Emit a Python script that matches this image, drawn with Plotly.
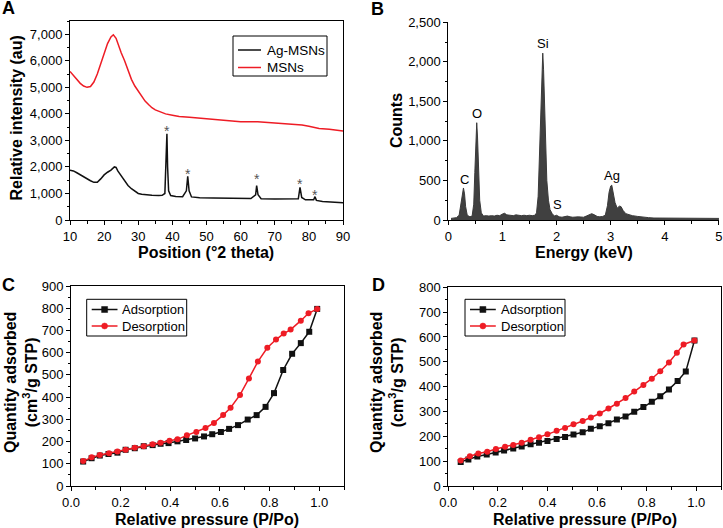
import plotly.graph_objects as go

# ---------------- Panel A: XRD ----------------
xrd_msn_theta = [10, 11, 12, 13, 14, 15, 16, 17, 18, 19, 20, 21, 22, 22.7, 23.5, 24, 25, 26, 27, 28, 29, 30,
                 31, 32, 33, 34, 35, 36, 37, 38, 40, 42, 45, 50, 55, 60, 65, 70, 75, 78, 80, 83, 86, 88, 90]
xrd_msn_int = [5600, 5450, 5300, 5150, 5050, 5000, 5030, 5200, 5500, 5900, 6300, 6650, 6900, 6980, 6850, 6650,
               6300, 6000, 5650, 5300, 5050, 4850, 4650, 4480, 4350, 4230, 4150, 4100, 4050, 4000, 3950, 3900,
               3870, 3820, 3750, 3700, 3700, 3660, 3600, 3580, 3530, 3450, 3420, 3380, 3350]

xrd_ag_theta = [10, 11, 12, 13, 14, 15, 16, 17, 18, 19, 20, 21, 22, 23, 23.5, 24, 25, 26, 27, 28, 29, 30, 31,
                32, 34, 36, 37, 37.8, 38.1, 38.4, 38.6, 38.9, 39.5, 41, 43, 44.1, 44.5, 44.9, 45.6, 48, 52, 56,
                60, 63, 64.4, 64.7, 65.1, 66, 70, 74, 76.9, 77.4, 77.9, 79, 81.4, 81.8, 82.2, 84, 87, 90]
xrd_ag_int = [1880, 1850, 1780, 1700, 1620, 1550, 1480, 1420, 1420, 1550, 1700, 1800, 1880, 2000, 1980, 1850,
              1650, 1450, 1300, 1180, 1080, 1000, 970, 950, 930, 920, 930, 1000, 2200, 3250, 2000, 1100, 920,
              890, 880, 1100, 1650, 1100, 870, 840, 830, 820, 810, 810, 950, 1300, 950, 800, 790, 780, 800,
              1230, 850, 760, 760, 880, 740, 700, 670, 650]

star_theta = [38.4, 44.7, 64.8, 77.5, 81.7]
star_int = [3456, 1858, 1658, 1470, 1067]

# ---------------- Panel B: EDS ----------------
eds_energy = [0.05, 0.10, 0.15, 0.20, 0.23, 0.26, 0.28, 0.30, 0.32, 0.35, 0.40, 0.44, 0.47, 0.49, 0.51, 0.525,
              0.54, 0.56, 0.58, 0.61, 0.65, 0.70, 0.75, 0.80, 0.85, 0.90, 0.95, 1.00, 1.04, 1.08, 1.12, 1.20,
              1.25, 1.30, 1.35, 1.40, 1.45, 1.50, 1.55, 1.60, 1.63, 1.66, 1.69, 1.71, 1.73, 1.745, 1.76, 1.78,
              1.80, 1.82, 1.85, 1.88, 1.92, 1.96, 2.00, 2.05, 2.10, 2.15, 2.20, 2.25, 2.30, 2.40, 2.50, 2.55,
              2.60, 2.65, 2.70, 2.75, 2.80, 2.85, 2.90, 2.94, 2.97, 3.00, 3.02, 3.05, 3.08, 3.12, 3.16, 3.19,
              3.23, 3.28, 3.33, 3.40, 3.50, 3.60, 3.70, 3.80, 4.00, 4.20, 4.40, 4.60, 4.80, 5.00]
eds_counts = [20, 25, 30, 60, 180, 330, 405, 330, 170, 60, 40, 50, 200, 600, 1050, 1230,
              1050, 600, 250, 90, 50, 55, 50, 55, 50, 60, 55, 75, 85, 65, 60, 55,
              65, 60, 55, 60, 55, 60, 55, 60, 90, 300, 900, 1500, 1950, 2110, 1900, 1450,
              900, 500, 250, 130, 80, 50, 60, 40, 35, 40, 50, 40, 35, 40, 35, 50,
              70, 80, 65, 45, 40, 45, 60, 180, 350, 430, 440, 350, 220, 150, 175, 170,
              120, 80, 70, 55, 45, 35, 30, 25, 25, 25, 22, 20, 20, 20]

eds_labels = ["C", "O", "Si", "S", "Ag"]
eds_label_x = [0.29, 0.536, 1.756, 2.015, 3.02]
eds_label_y = [515, 1349, 2231, 190, 560]

# ---------------- Panel C: isotherm ----------------
c_ads_p = [0.049, 0.083, 0.116, 0.151, 0.187, 0.22, 0.257, 0.293, 0.329, 0.361, 0.393, 0.429, 0.464, 0.5,
           0.536, 0.569, 0.604, 0.637, 0.673, 0.712, 0.748, 0.784, 0.818, 0.855, 0.891, 0.926, 0.96, 0.992]
c_ads_q = [110, 125, 137, 144, 150, 163, 170, 179, 184, 190, 193, 201, 207, 214, 223, 233, 243, 257, 274, 299,
           319, 356, 418, 522, 595, 643, 694, 797]
c_des_p = [0.049, 0.083, 0.116, 0.153, 0.187, 0.22, 0.257, 0.293, 0.329, 0.361, 0.397, 0.429, 0.467, 0.505,
           0.542, 0.576, 0.613, 0.643, 0.681, 0.717, 0.753, 0.791, 0.826, 0.857, 0.885, 0.926, 0.957, 0.992]
c_des_q = [112, 129, 140, 147, 155, 163, 172, 179, 188, 195, 204, 210, 228, 243, 261, 284, 319, 352, 410, 484,
           560, 622, 659, 686, 704, 744, 777, 797]

# ---------------- Panel D: isotherm ----------------
d_ads_p = [0.05, 0.081, 0.117, 0.155, 0.191, 0.225, 0.262, 0.296, 0.332, 0.366, 0.4, 0.437, 0.471, 0.505,
           0.542, 0.575, 0.611, 0.646, 0.68, 0.715, 0.75, 0.787, 0.821, 0.855, 0.89, 0.925, 0.958, 0.993]
d_ads_q = [97, 107, 119, 127, 135, 143, 151, 159, 168, 174, 181, 189, 197, 207, 216, 230, 241, 253, 268, 280,
           299, 318, 339, 361, 389, 423, 461, 586]
d_des_p = [0.05, 0.087, 0.121, 0.157, 0.192, 0.229, 0.262, 0.296, 0.332, 0.366, 0.4, 0.437, 0.471, 0.505,
           0.542, 0.575, 0.611, 0.646, 0.68, 0.715, 0.75, 0.787, 0.821, 0.855, 0.89, 0.922, 0.949, 0.993]
d_des_q = [103, 120, 131, 138, 149, 158, 165, 174, 186, 196, 208, 222, 234, 249, 262, 276, 292, 312, 331, 354,
           380, 407, 432, 462, 497, 536, 570, 586]

# legend texts
legend_a = ["Ag-MSNs", "MSNs"]
legend_iso = ["Adsorption", "Desorption"]

W, H = 723, 528
FONT = "Arial, Liberation Sans, sans-serif"
RED = "#ee1c25"
BLACK = "#111111"


def px(xp):
    return xp / W


def py(yp):
    return 1 - yp / H


fig = go.Figure()

# A
fig.add_trace(go.Scatter(x=xrd_ag_theta, y=xrd_ag_int, mode="lines", name=legend_a[0],
                         line=dict(color=BLACK, width=1.5), xaxis="x", yaxis="y", showlegend=False))
fig.add_trace(go.Scatter(x=xrd_msn_theta, y=xrd_msn_int, mode="lines", name=legend_a[1],
                         line=dict(color=RED, width=1.5), xaxis="x", yaxis="y", showlegend=False))
# B
fig.add_trace(go.Scatter(x=eds_energy, y=eds_counts, mode="lines", fill="tozeroy", name="EDS",
                         line=dict(color="#3a3a3a", width=1), fillcolor="#404040",
                         showlegend=False, xaxis="x2", yaxis="y2"))
# C
fig.add_trace(go.Scatter(x=c_ads_p, y=c_ads_q, mode="lines+markers", name=legend_iso[0],
                         line=dict(color=BLACK, width=1.5), marker=dict(symbol="square", size=6, color=BLACK),
                         xaxis="x3", yaxis="y3", showlegend=False))
fig.add_trace(go.Scatter(x=c_des_p, y=c_des_q, mode="lines+markers", name=legend_iso[1],
                         line=dict(color=RED, width=1.5), marker=dict(symbol="circle", size=6, color=RED),
                         xaxis="x3", yaxis="y3", showlegend=False))
# D
fig.add_trace(go.Scatter(x=d_ads_p, y=d_ads_q, mode="lines+markers", name=legend_iso[0],
                         line=dict(color=BLACK, width=1.5), marker=dict(symbol="square", size=6, color=BLACK),
                         xaxis="x4", yaxis="y4", showlegend=False))
fig.add_trace(go.Scatter(x=d_des_p, y=d_des_q, mode="lines+markers", name=legend_iso[1],
                         line=dict(color=RED, width=1.5), marker=dict(symbol="circle", size=6, color=RED),
                         xaxis="x4", yaxis="y4", showlegend=False))

tickfont = dict(family=FONT, size=13, color="black")


def ax(domain, rng, dtick, minor_dtick, mirror, anchor, fmt=None):
    d = dict(domain=domain, range=rng, dtick=dtick, tick0=0, showgrid=False, zeroline=False,
             showline=True, linecolor="black", linewidth=1, mirror=mirror,
             ticks="outside", ticklen=4, tickwidth=1, tickcolor="black",
             minor=dict(ticks="outside", ticklen=2.5, tickwidth=1, tickcolor="black", dtick=minor_dtick,
                        showgrid=False),
             tickfont=tickfont, anchor=anchor, fixedrange=True, automargin=False,
             ticklabeloverflow="allow")
    if fmt:
        d["tickformat"] = fmt
    return d


A_x = [px(70), px(343)]
A_y = [py(220), py(21)]
B_x = [px(448.3), px(719)]
B_y = [py(220), py(22.3)]
C_x = [px(71), px(344)]
C_y = [py(486), py(286)]
D_x = [px(448.3), px(721)]
D_y = [py(486), py(287.3)]

fig.update_layout(
    width=W, height=H, margin=dict(l=0, r=0, t=0, b=0, autoexpand=False),
    paper_bgcolor="white", plot_bgcolor="white",
    font=dict(family=FONT, size=13, color="black"),
    separators=".,", showlegend=False,
    xaxis=ax(A_x, [10, 90], 10, 5, True, "y"),
    yaxis=ax(A_y, [0, 7500], 1000, 500, True, "x", ","),
    xaxis2=ax(B_x, [0, 5.001], 1, 0.5, False, "y2"),
    yaxis2=ax(B_y, [0, 2500], 500, 250, False, "x2", ","),
    xaxis3=ax(C_x, [0, 1.1], 0.2, 0.1, True, "y3", ".1f"),
    yaxis3=ax(C_y, [0, 900], 100, 50, True, "x3"),
    xaxis4=ax(D_x, [0, 1.1], 0.2, 0.1, True, "y4", ".1f"),
    yaxis4=ax(D_y, [0, 800], 100, 50, True, "x4"),
)

ann = []
shapes = []
# panel letters
for lab, xx, yy in [("A", 8.5, 8), ("B", 377, 8.5), ("C", 8.5, 285), ("D", 378.5, 285)]:
    ann.append(dict(text=f"<b>{lab}</b>", x=px(xx), y=py(yy), xref="paper", yref="paper", showarrow=False,
                    xanchor="center", yanchor="middle", font=dict(family=FONT, size=18, color="black")))
# axis titles
tfont = dict(family=FONT, size=16, color="black")
titles = [
    ("<b>Relative intensity (au)</b>", 15.5, 118, -90),
    ("<b>Position (°2 theta)</b>", 206, 252, 0),
    ("<b>Counts</b>", 397, 121, -90),
    ("<b>Energy (keV)</b>", 584, 252, 0),
    ("<b>Quantity adsorbed</b><br><b>(cm<sup>3</sup>/g STP)</b>", 21, 383, -90),
    ("<b>Relative pressure (P/Po)</b>", 207, 519, 0),
    ("<b>Quantity adsorbed</b><br><b>(cm<sup>3</sup>/g STP)</b>", 387, 383, -90),
    ("<b>Relative pressure (P/Po)</b>", 585, 519, 0),
]
for t, xx, yy, ang in titles:
    ann.append(dict(text=t, x=px(xx), y=py(yy), xref="paper", yref="paper", showarrow=False,
                    xanchor="center", yanchor="middle", textangle=ang, font=tfont))
# stars on XRD peaks
for sx, sy in zip(star_theta, star_int):
    ann.append(dict(text="*", x=sx, y=sy, xref="x", yref="y", showarrow=False, xanchor="center",
                    yanchor="middle", yshift=-3, font=dict(family=FONT, size=14, color="#555555")))
# EDS element labels
for t, lx, ly in zip(eds_labels, eds_label_x, eds_label_y):
    ann.append(dict(text=t, x=lx, y=ly, xref="x2", yref="y2", showarrow=False, xanchor="center",
                    yanchor="middle", font=dict(family=FONT, size=13, color="black")))


# ---- boxed legends (drawn in paper space) ----
def legend_box(x0, y0, x1, y1):
    shapes.append(dict(type="rect", xref="paper", yref="paper", x0=px(x0), x1=px(x1), y0=py(y1), y1=py(y0),
                       line=dict(color="black", width=1), fillcolor="white", layer="above"))


def legend_entry(lx0, lx1, ly, color, text, tx, size, marker=None):
    shapes.append(dict(type="line", xref="paper", yref="paper", x0=px(lx0), x1=px(lx1), y0=py(ly), y1=py(ly),
                       line=dict(color=color, width=1.5), layer="above"))
    if marker:
        cx = (lx0 + lx1) / 2
        r = 3
        shapes.append(dict(type=marker, xref="paper", yref="paper", x0=px(cx - r), x1=px(cx + r),
                           y0=py(ly + r), y1=py(ly - r), fillcolor=color, line=dict(color=color, width=0.5),
                           layer="above"))
    ann.append(dict(text=text, x=px(tx), y=py(ly), xref="paper", yref="paper", showarrow=False,
                    xanchor="left", yanchor="middle", font=dict(family=FONT, size=size, color="black")))


legend_box(233, 36, 327, 76)
legend_entry(238, 261, 50, BLACK, legend_a[0], 265, 13.5)
legend_entry(238, 261, 67.5, RED, legend_a[1], 265, 13.5)

legend_box(86.7, 299.3, 186.7, 336)
legend_entry(91.7, 117.5, 309.5, BLACK, legend_iso[0], 120, 13)
legend_entry(91.7, 117.5, 326, RED, legend_iso[1], 120, 13)

legend_box(465, 299.3, 565, 336)
legend_entry(470, 495.8, 309.5, BLACK, legend_iso[0], 498.5, 13)
legend_entry(470, 495.8, 326, RED, legend_iso[1], 498.5, 13)

# markers inside the isotherm legends
for (lx0, lx1, ly, color, marker) in [(91.7, 117.5, 309.5, BLACK, "rect"), (91.7, 117.5, 326, RED, "circle"),
                                      (470, 495.8, 309.5, BLACK, "rect"), (470, 495.8, 326, RED, "circle")]:
    cx = (lx0 + lx1) / 2
    shapes.append(dict(type=marker, xref="paper", yref="paper", x0=px(cx - 3), x1=px(cx + 3),
                       y0=py(ly + 3), y1=py(ly - 3), fillcolor=color, line=dict(color=color, width=0.5),
                       layer="above"))

fig.update_layout(annotations=ann, shapes=shapes)

fig.write_html("out.html", config={"displayModeBar": False},
               post_script="document.body.style.margin='0';document.body.style.overflow='hidden';")
